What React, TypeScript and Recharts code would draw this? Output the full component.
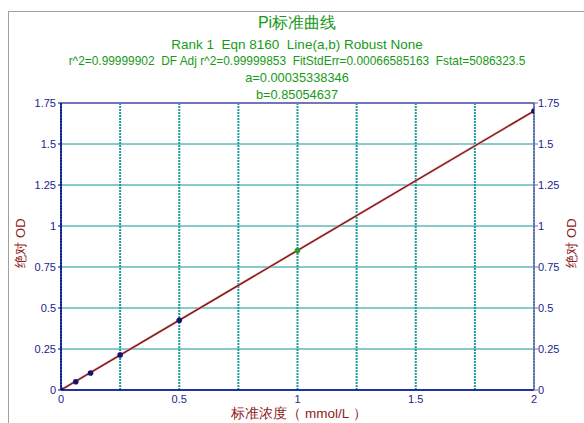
import React from 'react';
import {
  ComposedChart,
  Line,
  Scatter,
  XAxis,
  YAxis,
  CartesianGrid,
  ReferenceLine,
} from 'recharts';

// standard points (concentration, absorbance)
const concentrations = [0, 0.0625, 0.125, 0.25, 0.5, 1, 2];
const absorbances = [0, 0.05, 0.104, 0.213, 0.425, 0.851, 1.701];

// fitted line y = a + b*x at the two ends of the range
const fitX = [0, 2];
const fitY = [0.00035, 1.70145];

const xTicks = [0, 0.5, 1, 1.5, 2];
const yTicks = [0, 0.25, 0.5, 0.75, 1, 1.25, 1.5, 1.75];
const xGrid = [0.25, 0.5, 0.75, 1, 1.25, 1.5, 1.75];

const titleLines = [
  'Rank 1  Eqn 8160  Line(a,b) Robust None',
  'r^2=0.99999902  DF Adj r^2=0.99999853  FitStdErr=0.00066585163  Fstat=5086323.5',
  'a=0.00035338346',
  'b=0.85054637',
];
const titleSizes = [13.5, 11.9, 12.8, 12.8];

const highlightX = 1;

const points = concentrations.map((x, i) => ({ x, y: absorbances[i] }));
const fitData = fitX.map((x, i) => ({ x, y: fitY[i] }));

const GREEN = '#179a17';
const RED = '#8e1b1b';
const BLUE = '#1c1c8c';
const TEAL = '#139595';
const FONT = '"Liberation Sans", Arial, sans-serif';

function Dot(props: any) {
  const { cx, cy, payload } = props;
  const fill = payload.x === highlightX ? '#2f9a2f' : '#14146e';
  return <circle cx={cx} cy={cy} r={2.8} fill={fill} />;
}

export default function App() {
  const axisLabel = {
    position: 'absolute' as const,
    color: RED,
    fontSize: 13,
    whiteSpace: 'pre' as const,
    lineHeight: '15px',
  };
  return (
    <div
      style={{
        position: 'fixed',
        left: 0,
        top: 0,
        width: 584,
        height: 423,
        overflow: 'hidden',
        background: '#fff',
        fontFamily: FONT,
      }}
    >
      <div
        style={{
          position: 'absolute',
          left: 8,
          top: 11,
          width: 640,
          height: 500,
          borderLeft: '1px solid #a0a0a0',
          borderTop: '1px solid #a0a0a0',
        }}
      />
      <div
        style={{
          position: 'absolute',
          left: 0,
          top: 14,
          width: 594,
          textAlign: 'center',
          color: GREEN,
          fontSize: 16,
          lineHeight: '18px',
        }}
      >
        Pi标准曲线
      </div>
      {titleLines.map((t, i) => (
        <div
          key={i}
          style={{
            position: 'absolute',
            left: 0,
            top: 37 + i * 16.7,
            width: 594,
            textAlign: 'center',
            color: GREEN,
            fontSize: titleSizes[i],
            lineHeight: '15px',
            whiteSpace: 'pre',
          }}
        >
          {t}
        </div>
      ))}
      <div style={{ position: 'absolute', left: 0, top: 0 }}>
        <ComposedChart
          width={584}
          height={423}
          margin={{ top: 103, right: 0, bottom: 0, left: 0 }}
          style={{ fontFamily: FONT }}
        >
          <CartesianGrid
            yAxisId="left"
            horizontal={true}
            vertical={false}
            stroke={TEAL}
            strokeWidth={1}
          />
          <CartesianGrid
            xAxisId="grid"
            yAxisId="left"
            horizontal={false}
            vertical={true}
            stroke="#1c9c9c"
            strokeWidth={2}
            strokeDasharray="2 1"
          />
          <ReferenceLine y={1.75} yAxisId="left" stroke="#7474bc" strokeWidth={2} />
          <XAxis
            xAxisId="grid"
            dataKey="x"
            type="number"
            domain={[0, 2]}
            ticks={xGrid}
            allowDataOverflow
            hide
          />
          <XAxis
            dataKey="x"
            type="number"
            domain={[0, 2]}
            ticks={xTicks}
            allowDataOverflow
            height={33}
            axisLine={{ stroke: '#00008b', strokeWidth: 1.5 }}
            tickLine={false}
            tickSize={0}
            tickMargin={5}
            tick={{ fill: BLUE, fontSize: 11 }}
          />
          <YAxis
            yAxisId="left"
            type="number"
            domain={[0, 1.75]}
            ticks={yTicks}
            allowDataOverflow
            width={61}
            axisLine={{ stroke: '#00008b', strokeWidth: 1.5 }}
            tickLine={{ stroke: '#00008b' }}
            tickSize={3}
            tickMargin={2}
            tick={{ fill: BLUE, fontSize: 11 }}
          />
          <YAxis
            yAxisId="right"
            orientation="right"
            type="number"
            domain={[0, 1.75]}
            ticks={yTicks}
            allowDataOverflow
            width={50}
            axisLine={{ stroke: '#6a6ab4', strokeWidth: 1.5 }}
            tickLine={{ stroke: '#6a6ab4' }}
            tickSize={4}
            tickMargin={0}
            tick={{ fill: BLUE, fontSize: 11 }}
          />
          <Line
            yAxisId="left"
            data={fitData}
            dataKey="y"
            type="linear"
            stroke="#d9a0a0"
            strokeWidth={2.4}
            dot={false}
            activeDot={false}
            isAnimationActive={false}
          />
          <Line
            yAxisId="left"
            data={fitData}
            dataKey="y"
            type="linear"
            stroke="#7d0c0c"
            strokeWidth={1.2}
            dot={false}
            activeDot={false}
            isAnimationActive={false}
          />
          <Scatter
            yAxisId="left"
            data={points}
            dataKey="y"
            shape={<Dot />}
            isAnimationActive={false}
          />
        </ComposedChart>
      </div>
      <div
        style={{
          ...axisLabel,
          left: 20,
          top: 243,
          transform: 'translate(-50%, -50%) rotate(-90deg)',
        }}
      >
        绝对 OD
      </div>
      <div
        style={{
          ...axisLabel,
          left: 571,
          top: 243,
          transform: 'translate(-50%, -50%) rotate(-90deg)',
        }}
      >
        绝对 OD
      </div>
      <div
        style={{
          ...axisLabel,
          left: 299,
          top: 413,
          fontSize: 13.5,
          transform: 'translate(-50%, -50%)',
        }}
      >
        标准浓度（ mmol/L ）
      </div>
    </div>
  );
}
